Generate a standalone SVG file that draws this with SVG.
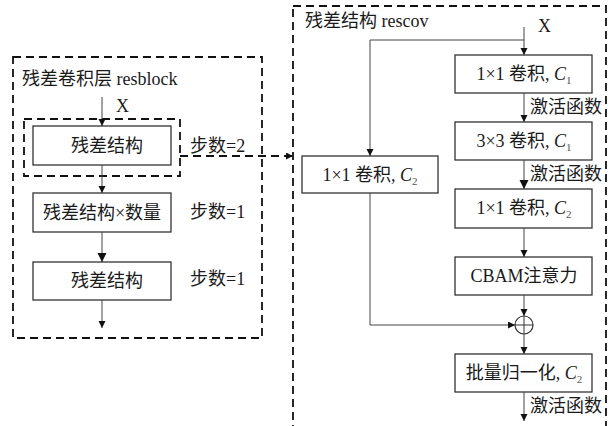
<svg xmlns="http://www.w3.org/2000/svg" width="612" height="426" viewBox="0 0 612 426">
<style>
.t{font-family:"Liberation Serif","Noto Sans CJK SC",serif;font-size:18px;fill:#1a1a1a}
.m{text-anchor:middle}
.b{fill:#fff;stroke:#333;stroke-width:1.3}
.d{fill:none;stroke:#111;stroke-width:1.8;stroke-dasharray:8,5}
.c{fill:none;stroke:#444;stroke-width:1}
.s{font-size:11px;fill:#555}
</style>
<defs>
<marker id="a" markerUnits="userSpaceOnUse" markerWidth="8" markerHeight="8" refX="7" refY="3.5" orient="auto"><path d="M0,0L7,3.5L0,7z" fill="#111"/></marker>
<marker id="A" markerUnits="userSpaceOnUse" markerWidth="10" markerHeight="10" refX="9" refY="4.5" orient="auto"><path d="M0,0L9,4.5L0,9z" fill="#111"/></marker>
</defs>
<g id="resblock">
<rect class="d" x="13" y="57" width="249" height="281"/>
<text class="t" x="22" y="85">残差卷积层 resblock</text>
<text class="t" x="116" y="112">X</text>
<rect class="d" x="24" y="119" width="156" height="57"/>
</g>
<g id="box1"><rect class="b" x="33" y="126" width="138" height="39"/><text class="t m" x="107" y="152">残差结构</text></g>
<g id="step2"><text class="t" x="190" y="152">步数=2</text></g>
<g id="box2"><rect class="b" x="33" y="193" width="138" height="39"/><text class="t m" x="102" y="219">残差结构×数量</text></g>
<g id="step1a"><text class="t" x="190" y="218">步数=1</text></g>
<g id="box3"><rect class="b" x="33" y="262" width="138" height="38"/><text class="t m" x="107" y="287">残差结构</text></g>
<g id="step1b"><text class="t" x="190" y="285">步数=1</text></g>
<g id="rescov">
<rect class="d" x="293" y="6" width="313" height="440"/>
<text class="t" x="305" y="27">残差结构 rescov</text>
<text class="t" x="538" y="32">X</text>
</g>
<g id="r1"><rect class="b" x="455" y="55" width="137" height="38"/><text class="t m" x="524" y="80">1×1 卷积, <tspan font-style="italic">C</tspan><tspan class="s" dy="4">1</tspan></text></g>
<g id="r2"><rect class="b" x="455" y="122" width="137" height="38"/><text class="t m" x="524" y="147">3×3 卷积, <tspan font-style="italic">C</tspan><tspan class="s" dy="4">1</tspan></text></g>
<g id="l1"><rect class="b" x="302" y="156" width="136" height="37"/><text class="t m" x="370" y="181">1×1 卷积, <tspan font-style="italic">C</tspan><tspan class="s" dy="4">2</tspan></text></g>
<g id="r3"><rect class="b" x="455" y="189" width="137" height="39"/><text class="t m" x="524" y="214">1×1 卷积, <tspan font-style="italic">C</tspan><tspan class="s" dy="4">2</tspan></text></g>
<g id="cbam"><rect class="b" x="455" y="257" width="137" height="38"/><text class="t m" x="524" y="282">CBAM注意力</text></g>
<g id="add"><circle cx="524" cy="325" r="9" fill="#fff" stroke="#333" stroke-width="1.2"/><path d="M515,325H533M524,316V334" stroke="#333" stroke-width="1"/></g>
<g id="bn"><rect class="b" x="455" y="354" width="137" height="38"/><text class="t m" x="524" y="379">批量归一化, <tspan font-style="italic">C</tspan><tspan class="s" dy="4">2</tspan></text></g>
<g id="labels">
<text class="t" x="530" y="113">激活函数</text>
<text class="t" x="530" y="180">激活函数</text>
<text class="t" x="530" y="412">激活函数</text>
</g>
<g id="connectors">
<path class="c" d="M102,97V126" marker-end="url(#a)"/>
<path class="c" d="M102,165V193" marker-end="url(#a)"/>
<path class="c" d="M102,232V262" marker-end="url(#A)"/>
<path class="c" d="M102,300V328" marker-end="url(#a)"/>
<path class="d" d="M180,156H293" stroke-dasharray="6,4" marker-end="url(#a)"/>
<path class="c" d="M524,27V55" marker-end="url(#a)"/>
<path class="c" d="M524,40H370V156" marker-end="url(#a)"/>
<path class="c" d="M524,93V122" marker-end="url(#a)"/>
<path class="c" d="M524,160V189" marker-end="url(#A)"/>
<path class="c" d="M524,228V257" marker-end="url(#a)"/>
<path class="c" d="M524,295V316" marker-end="url(#a)"/>
<path class="c" d="M370,193V325H515" marker-end="url(#a)"/>
<path class="c" d="M524,334V354" marker-end="url(#a)"/>
<path class="c" d="M524,392V421" marker-end="url(#a)"/>
</g>
</svg>
